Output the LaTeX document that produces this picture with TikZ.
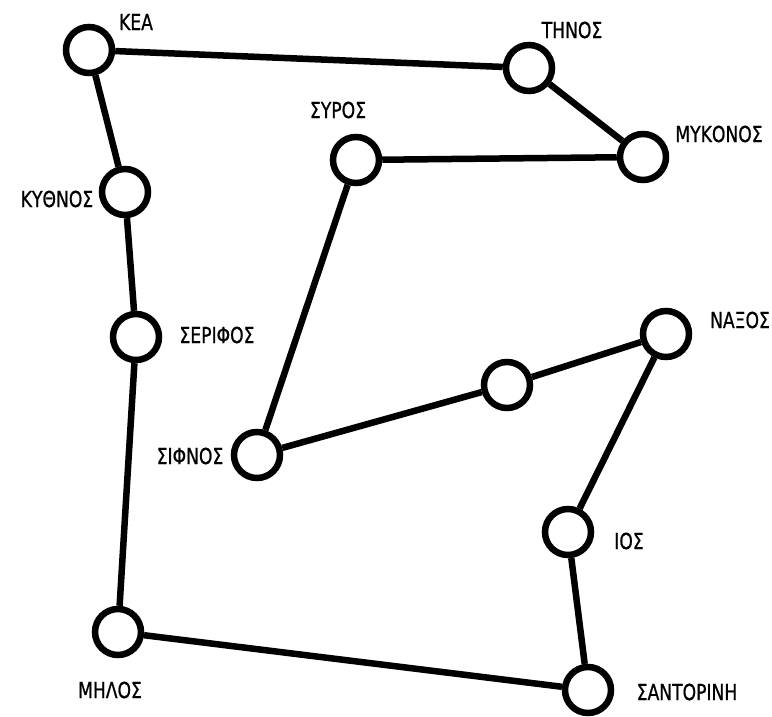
\documentclass[tikz,border=0pt]{standalone}
\usepackage{fontspec}
\newfontfamily\lblfont[FakeStretch=0.78,FakeBold=0.8]{DejaVu Sans}
\tikzset{
  isle/.style={circle, draw=black, line width=6.5pt, minimum size=46pt, inner sep=0pt, fill=white},
  lbl/.style={font=\lblfont\fontsize{22}{24}\selectfont, inner sep=0pt, anchor=center},
  link/.style={line width=6.5pt, draw=black}
}
\begin{document}
\begin{tikzpicture}[x=1pt,y=-1pt]
\useasboundingbox (0,0) rectangle (772,717);
\fill[white] (0,0) rectangle (772,717);
% islands
\node[isle] (kea) at (89,50) {};
\node[isle] (tinos) at (529,68) {};
\node[isle] (mykonos) at (643,157) {};
\node[isle] (syros) at (356,160) {};
\node[isle] (kythnos) at (125,192) {};
\node[isle] (serifos) at (136,337) {};
\node[isle] (mid) at (507,385) {};
\node[isle] (naxos) at (666,334) {};
\node[isle] (sifnos) at (257,455) {};
\node[isle] (ios) at (568,532) {};
\node[isle] (milos) at (118,632) {};
\node[isle] (santorini) at (588,690) {};
% links
\draw[link] (kea) -- (tinos);
\draw[link] (tinos) -- (mykonos);
\draw[link] (mykonos) -- (syros);
\draw[link] (syros) -- (sifnos);
\draw[link] (sifnos) -- (mid);
\draw[link] (mid) -- (naxos);
\draw[link] (naxos) -- (ios);
\draw[link] (ios) -- (santorini);
\draw[link] (santorini) -- (milos);
\draw[link] (milos) -- (serifos);
\draw[link] (serifos) -- (kythnos);
\draw[link] (kythnos) -- (kea);
% labels
\node[lbl] (lkea) at (136,22) {ΚΕΑ};
\node[lbl] (ltinos) at (572,30) {ΤΗΝΟΣ};
\node[lbl] (lmykonos) at (719,134) {ΜΥΚΟΝΟΣ};
\node[lbl] (lsyros) at (338,110) {ΣΥΡΟΣ};
\node[lbl] (lkythnos) at (57,199) {ΚΥΘΝΟΣ};
\node[lbl] (lserifos) at (217,335) {ΣΕΡΙΦΟΣ};
\node[lbl] (lnaxos) at (740,320) {ΝΑΞΟΣ};
\node[lbl] (lsifnos) at (190,456) {ΣΙΦΝΟΣ};
\node[lbl] (lios) at (629,541) {ΙΟΣ};
\node[lbl] (lmilos) at (110,690) {ΜΗΛΟΣ};
\node[lbl] (lsantorini) at (687,692) {ΣΑΝΤΟΡΙΝΗ};
\end{tikzpicture}
\end{document}
